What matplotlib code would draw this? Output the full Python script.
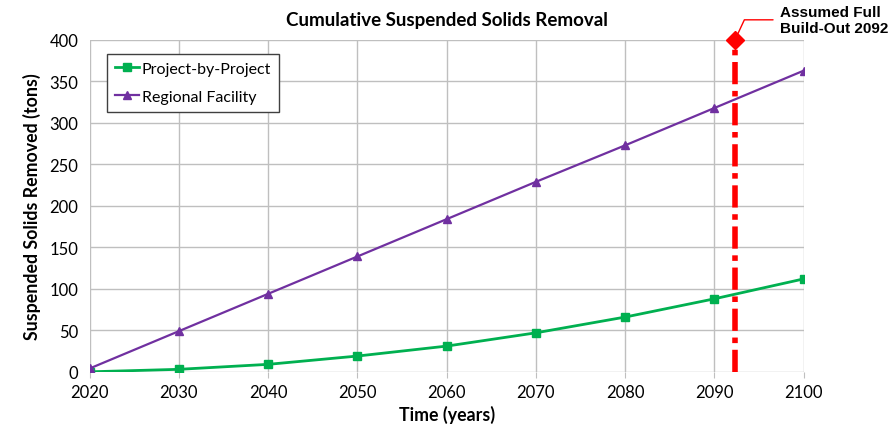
import matplotlib.pyplot as plt

years = [2020, 2030, 2040, 2050, 2060, 2070, 2080, 2090, 2100]
project = [0, 3, 9, 19, 31, 47, 66, 88, 112]
regional = [4, 49, 94, 139, 184, 229, 273, 318, 363]
buildout_year = 2092.3

plt.rcParams['font.family'] = ['Lato', 'DejaVu Sans']

fig = plt.figure(figsize=(8.96, 4.31), dpi=100)
ax = fig.add_axes([0.100, 0.135, 0.797, 0.77])

ax.plot(years, project, color='#00b050', lw=2, marker='s', ms=6, label='Project-by-Project')
ax.plot(years, regional, color='#7030a0', lw=1.6, marker='^', ms=6, label='Regional Facility')

ax.plot([buildout_year, buildout_year], [0, 400], color='red', lw=4, ls=(0, (4, 1.2, 1, 1.2)), zorder=4)
ax.plot([buildout_year], [400], marker='D', color='red', ms=9, clip_on=False, zorder=5)

ax.annotate('Assumed Full\nBuild-Out 2092', xy=(buildout_year, 400), xycoords='data',
            xytext=(780, 425), textcoords='figure pixels', ha='left', va='top',
            fontsize=11, fontweight='bold', family='Liberation Sans', linespacing=1.15,
            arrowprops=dict(arrowstyle='-', color='red', lw=1,
                            connectionstyle='angle,angleA=0,angleB=65,rad=0',
                            shrinkA=3, shrinkB=5))

ax.set_xlim(2020, 2100)
ax.set_ylim(0, 400)
ax.set_xticks(years)
ax.set_yticks(range(0, 401, 50))
ax.grid(True, color='#bfbfbf', lw=1)
ax.set_axisbelow(True)
for s in ax.spines.values():
    s.set_visible(False)
ax.tick_params(axis='y', length=0, labelsize=12, pad=8)
ax.tick_params(axis='x', length=4, color='#bfbfbf', labelsize=12, pad=5)

ax.set_title('Cumulative Suspended Solids Removal', fontsize=13.5, fontweight='bold', pad=11)
ax.set_xlabel('Time (years)', fontsize=12.8, fontweight='bold', labelpad=3)
ax.set_ylabel('Suspended Solids Removed (tons)', fontsize=12.8, fontweight='bold', labelpad=6)

leg = ax.legend(loc='upper left', bbox_to_anchor=(0.025, 0.958), fontsize=11.5, fancybox=False,
                edgecolor='#404040', framealpha=1, handlelength=1.5, handletextpad=0.15,
                borderpad=0.5, labelspacing=0.85, borderaxespad=0)
leg.get_frame().set_linewidth(1)

fig.savefig('out.png', dpi=100)
